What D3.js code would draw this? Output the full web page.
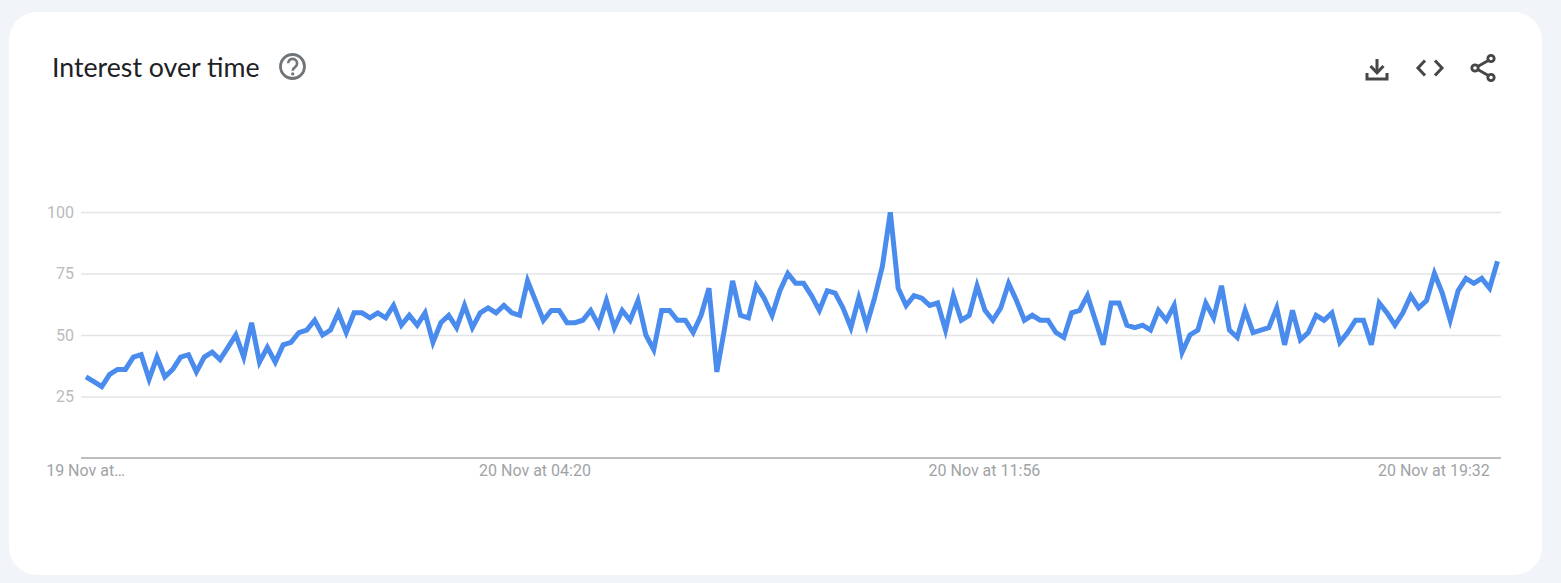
<!DOCTYPE html>
<html>
<head>
<meta charset="utf-8">
<script src="https://cdn.jsdelivr.net/npm/d3@7"></script>
<style>
html,body{margin:0;padding:0;background:#f1f4f9;overflow:hidden}
svg{display:block}
text{font-family:Roboto,sans-serif}
</style>
</head>
<body>
<svg id="chart" width="1561" height="583"></svg>
<script>
const titleText = "Interest over time";
const yTicks = [25, 50, 75, 100];
const xTickIndex = [0, 57, 114, 171];
const xTickLabels = ["19 Nov at…", "20 Nov at 04:20", "20 Nov at 11:56", "20 Nov at 19:32"];
const values = [
 33,31,29,34,36,36,41,42,32,41,33,36,41,42,35,41,43,40,45,50,
 41,55,39,45,39,46,47,51,52,56,50,52,59,51,59,59,57,59,57,62,
 54,58,54,59,47,55,58,53,62,53,59,61,59,62,59,58,72,64,56,60,
 60,55,55,56,60,54,64,53,60,56,64,50,44,60,60,56,56,51,58,69,
 35,53,72,58,57,70,65,58,68,75,71,71,66,60,68,67,61,53,65,54,
 65,78,100,69,62,66,65,62,63,52,66,56,58,70,60,56,61,71,64,56,
 58,56,56,51,49,59,60,66,56,46,63,63,54,53,54,52,60,56,62,43,
 50,52,63,57,70,52,49,60,51,52,53,61,46,60,48,51,58,56,59,47,
 51,56,56,46,63,59,54,59,66,61,64,75,67,56,68,73,71,73,69,80
];

const svg = d3.select("#chart");
const W = 1561, H = 583;

// page background + card
svg.append("rect").attr("width", W).attr("height", H).attr("fill", "#f1f4f9");
svg.append("rect").attr("x", 9).attr("y", 12).attr("width", 1533).attr("height", 563)
   .attr("rx", 28).attr("ry", 28).attr("fill", "#ffffff");

// title
svg.append("text").attr("x", 52).attr("y", 77).text(titleText)
   .style("font-family", "Lato, sans-serif").attr("font-size", 26.7).attr("fill", "#202124");

// help icon
const help = svg.append("g").attr("transform", "translate(292.5,66.5)");
help.append("circle").attr("r", 12).attr("fill", "none").attr("stroke", "#70757a").attr("stroke-width", 2.8);
help.append("path").attr("d", "M-4.4,-3.2 A4.5,4.5 0 1 1 2.6,0.6 C0.8,1.8 0.2,2.4 0.2,4.2")
    .attr("fill", "none").attr("stroke", "#70757a").attr("stroke-width", 2.6);
help.append("circle").attr("cx", 0.2).attr("cy", 7.4).attr("r", 1.6).attr("fill", "#70757a");

// action icons
const ic = "#444746";
const dl = svg.append("g").attr("transform", "translate(1377,69)").attr("fill", "none").attr("stroke", ic).attr("stroke-width", 3);
dl.append("path").attr("d", "M0,-10 V3");
dl.append("path").attr("d", "M-6.5,-3 L0,3.8 L6.5,-3");
dl.append("path").attr("d", "M-10,4 V10 H10 V4");
const em = svg.append("g").attr("transform", "translate(1430,68)").attr("fill", "none").attr("stroke", ic).attr("stroke-width", 3);
em.append("path").attr("d", "M-5,-7.5 L-12,0 L-5,7.5");
em.append("path").attr("d", "M5,-7.5 L12,0 L5,7.5");
const sh = svg.append("g").attr("transform", "translate(1483,68)").attr("fill", "#fff").attr("stroke", ic).attr("stroke-width", 2.8);
sh.append("path").attr("d", "M8,-9 L-8,0 L8,9").attr("fill", "none");
sh.append("circle").attr("cx", 8).attr("cy", -9.5).attr("r", 3.2);
sh.append("circle").attr("cx", -8).attr("cy", 0).attr("r", 3.2);
sh.append("circle").attr("cx", 8).attr("cy", 9.5).attr("r", 3.2);

// scales
const x = d3.scaleLinear().domain([0, values.length - 1]).range([86, 1497.5]);
const y = d3.scaleLinear().domain([0, 100]).range([458, 212]);
const plotL = 81, plotR = 1501;

// horizontal grid + y labels
const yAxis = d3.axisLeft(y).tickValues(yTicks).tickSize(plotL - plotR).tickPadding(6).tickFormat(d3.format("d"));
const gy = svg.append("g").attr("transform", `translate(${plotL},0)`).call(yAxis);
gy.select(".domain").remove();
gy.selectAll(".tick line").attr("stroke", "#e3e4e6").attr("stroke-width", 1.4);
gy.selectAll(".tick text").attr("fill", "#b9bbbe").attr("font-size", 16)
  .style("font-family", "Roboto, sans-serif").attr("x", -7).attr("dy", "0.34em");

// baseline + x labels
const xAxis = d3.axisBottom(x).tickValues(xTickIndex).tickSize(0).tickPadding(7)
  .tickFormat((d, i) => xTickLabels[i]);
const gx = svg.append("g").attr("transform", "translate(0,458)").call(xAxis);
gx.select(".domain").remove();
gx.selectAll(".tick text").attr("fill", "#a0a3a6").attr("font-size", 16)
  .style("font-family", "Roboto, sans-serif").attr("dx", -1).attr("dy", "0.71em");
svg.append("line").attr("x1", plotL).attr("x2", plotR).attr("y1", y(0)).attr("y2", y(0))
   .attr("stroke", "#a6a8ab").attr("stroke-width", 1.4);

// clip at chart top like the reference
svg.append("clipPath").attr("id", "plot").append("rect")
   .attr("x", plotL).attr("y", y(100)).attr("width", plotR - plotL).attr("height", y(0) - y(100));

// line
const line = d3.line().x((d, i) => x(i)).y(d => y(d));
svg.append("path").datum(values).attr("d", line).attr("clip-path", "url(#plot)")
   .attr("fill", "none").attr("stroke", "#4a8bee").attr("stroke-width", 5)
   .attr("stroke-linejoin", "miter").attr("stroke-miterlimit", 4);
</script>
</body>
</html>
